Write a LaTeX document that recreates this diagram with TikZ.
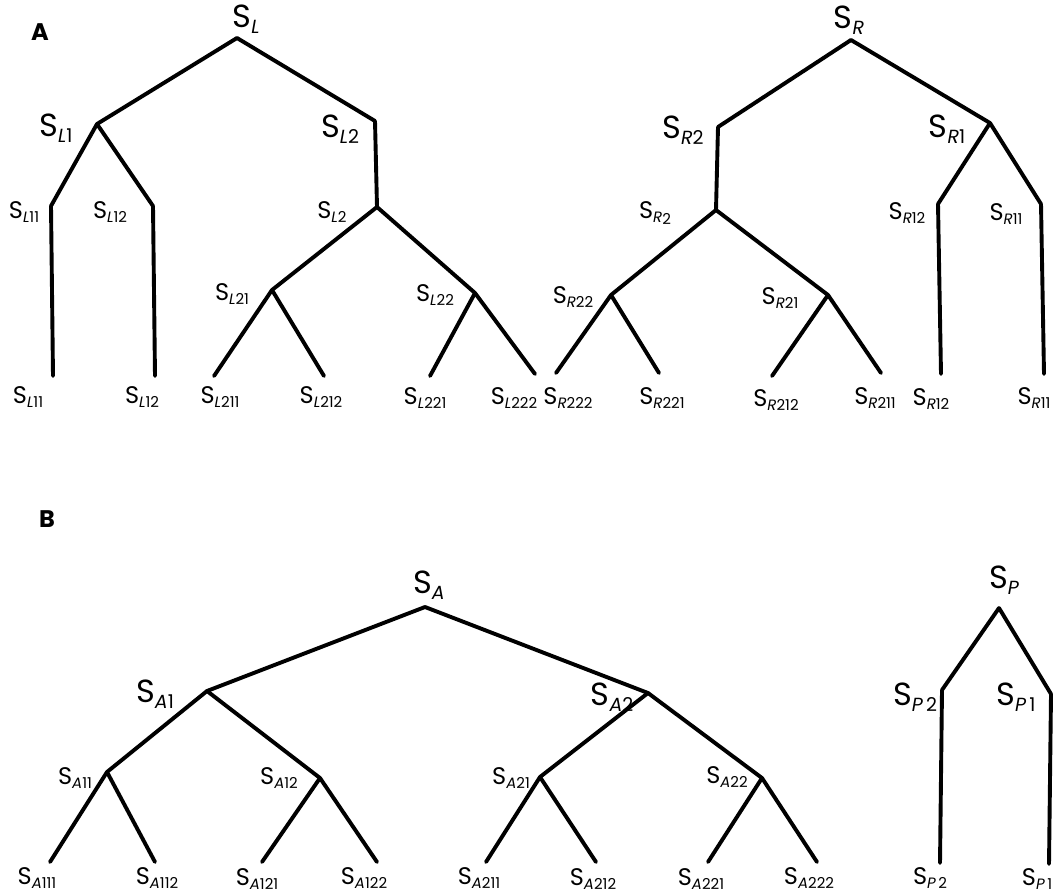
\documentclass[tikz,border=0pt]{standalone}
\usepackage{fontspec}
\setmainfont{Poppins}
\newcommand{\SBig}[1]{\fontsize{32}{36}\selectfont S\raisebox{-6pt}{\fontsize{19}{22}\selectfont #1}}
\newcommand{\SSmall}[1]{\fontsize{24}{28}\selectfont S\raisebox{-4.5pt}{\fontsize{15}{18}\selectfont #1}}
\tikzset{
  edge/.style={line width=3.9pt, line cap=round, line join=round},
  lbl/.style={inner sep=0pt, anchor=center},
  panel/.style={inner sep=0pt, font=\fontsize{24}{28}\selectfont\bfseries}
}
\begin{document}
\begin{tikzpicture}[x=1pt,y=-1pt]
\useasboundingbox (0,0) rectangle (1062,894);
% ---------------- Panel A, left tree ----------------
\node[panel] (pA) at (40,32) {A};
\coordinate (L) at (237,38);
\coordinate (L1) at (97,124);
\coordinate (L2a) at (375,121);
\coordinate (L2b) at (377,207);
\coordinate (L11a) at (51,206);
\coordinate (L11b) at (53,376);
\coordinate (L12a) at (153,206);
\coordinate (L12b) at (155,376);
\coordinate (L21) at (272,290);
\coordinate (L22) at (475,293);
\coordinate (L211) at (214,376);
\coordinate (L212) at (324,376);
\coordinate (L221) at (430,376);
\coordinate (L222) at (535,374);
\draw[edge] (L) -- (L1);
\draw[edge] (L) -- (L2a);
\draw[edge] (L2a) -- (L2b);
\draw[edge] (L1) -- (L11a);
\draw[edge] (L11a) -- (L11b);
\draw[edge] (L1) -- (L12a);
\draw[edge] (L12a) -- (L12b);
\draw[edge] (L2b) -- (L21);
\draw[edge] (L2b) -- (L22);
\draw[edge] (L21) -- (L211);
\draw[edge] (L21) -- (L212);
\draw[edge] (L22) -- (L221);
\draw[edge] (L22) -- (L222);
\node[lbl] (tL) at (246,19) {\SBig{\textit{L}}};
\node[lbl] (tL1) at (56,128) {\SBig{\textit{L}1}};
\node[lbl] (tL2a) at (340,129) {\SBig{\textit{L}2}};
\node[lbl] (tL11a) at (24,212) {\SSmall{\textit{L}11}};
\node[lbl] (tL12a) at (110,212) {\SSmall{\textit{L}12}};
\node[lbl] (tL2b) at (332,212) {\SSmall{\textit{L}2}};
\node[lbl] (tL21) at (232,294) {\SSmall{\textit{L}21}};
\node[lbl] (tL22) at (435,295) {\SSmall{\textit{L}22}};
\node[lbl] (tL11b) at (28,397) {\SSmall{\textit{L}11}};
\node[lbl] (tL12b) at (142,397) {\SSmall{\textit{L}12}};
\node[lbl] (tL211) at (220,397) {\SSmall{\textit{L}211}};
\node[lbl] (tL212) at (321,397) {\SSmall{\textit{L}212}};
\node[lbl] (tL221) at (425,398) {\SSmall{\textit{L}221}};
\node[lbl] (tL222) at (514,398) {\SSmall{\textit{L}222}};
% ---------------- Panel A, right tree ----------------
\coordinate (R) at (851,40);
\coordinate (R2a) at (718,127);
\coordinate (R2b) at (716,210);
\coordinate (R1) at (990,123);
\coordinate (R12a) at (938,204);
\coordinate (R12b) at (941,374);
\coordinate (R11a) at (1041,204);
\coordinate (R11b) at (1044,374);
\coordinate (R22) at (611,295);
\coordinate (R21) at (828,295);
\coordinate (R222) at (556,373);
\coordinate (R221) at (659,373);
\coordinate (R212) at (772,376);
\coordinate (R211) at (881,373);
\draw[edge] (R) -- (R2a);
\draw[edge] (R2a) -- (R2b);
\draw[edge] (R) -- (R1);
\draw[edge] (R1) -- (R12a);
\draw[edge] (R12a) -- (R12b);
\draw[edge] (R1) -- (R11a);
\draw[edge] (R11a) -- (R11b);
\draw[edge] (R2b) -- (R22);
\draw[edge] (R2b) -- (R21);
\draw[edge] (R22) -- (R222);
\draw[edge] (R22) -- (R221);
\draw[edge] (R21) -- (R212);
\draw[edge] (R21) -- (R211);
\node[lbl] (tR) at (849,20) {\SBig{\textit{R}}};
\node[lbl] (tR2a) at (683,130) {\SBig{\textit{R}2}};
\node[lbl] (tR1) at (947,129) {\SBig{\textit{R}1}};
\node[lbl] (tR2b) at (655,213) {\SSmall{\textit{R}\raisebox{-2pt}{2}}};
\node[lbl] (tR12a) at (907,213) {\SSmall{\textit{R}12}};
\node[lbl] (tR11a) at (1006,214) {\SSmall{\textit{R}11}};
\node[lbl] (tR22) at (573,297) {\SSmall{\textit{R}22}};
\node[lbl] (tR21) at (780,298) {\SSmall{\textit{R}21}};
\node[lbl] (tR222) at (568,398) {\SSmall{\textit{R}222}};
\node[lbl] (tR221) at (662,398) {\SSmall{\textit{R}221}};
\node[lbl] (tR212) at (776,400) {\SSmall{\textit{R}212}};
\node[lbl] (tR211) at (875,398) {\SSmall{\textit{R}211}};
\node[lbl] (tR12b) at (931,399) {\SSmall{\textit{R}12}};
\node[lbl] (tR11b) at (1034,398) {\SSmall{\textit{R}11}};
% ---------------- Panel B, tree S_A ----------------
\node[panel] (pB) at (47,519) {B};
\coordinate (A) at (425,607);
\coordinate (A1) at (207,691);
\coordinate (A2) at (648,693);
\coordinate (A11) at (107,772);
\coordinate (A12) at (320,778);
\coordinate (A21) at (540,777);
\coordinate (A22) at (762,778);
\coordinate (A111) at (50,862);
\coordinate (A112) at (155,862);
\coordinate (A121) at (262,862);
\coordinate (A122) at (377,862);
\coordinate (A211) at (486,862);
\coordinate (A212) at (596,862);
\coordinate (A221) at (708,862);
\coordinate (A222) at (817,862);
\draw[edge] (A) -- (A1);
\draw[edge] (A) -- (A2);
\draw[edge] (A1) -- (A11);
\draw[edge] (A1) -- (A12);
\draw[edge] (A2) -- (A21);
\draw[edge] (A2) -- (A22);
\draw[edge] (A11) -- (A111);
\draw[edge] (A11) -- (A112);
\draw[edge] (A12) -- (A121);
\draw[edge] (A12) -- (A122);
\draw[edge] (A21) -- (A211);
\draw[edge] (A21) -- (A212);
\draw[edge] (A22) -- (A221);
\draw[edge] (A22) -- (A222);
\node[lbl] (tA) at (429,585) {\SBig{\textit{A}}};
\node[lbl] (tA1) at (155,694) {\SBig{\textit{A}1}};
\node[lbl] (tA2) at (612,697) {\SBig{\textit{A}2}};
\node[lbl] (tA11) at (75,778) {\SSmall{\textit{A}11}};
\node[lbl] (tA12) at (279,778) {\SSmall{\textit{A}12}};
\node[lbl] (tA21) at (511,778) {\SSmall{\textit{A}21}};
\node[lbl] (tA22) at (727,777) {\SSmall{\textit{A}22}};
\node[lbl] (tA111) at (37,878) {\SSmall{\textit{A}111}};
\node[lbl] (tA112) at (157,878) {\SSmall{\textit{A}112}};
\node[lbl] (tA121) at (257,879) {\SSmall{\textit{A}121}};
\node[lbl] (tA122) at (364,878) {\SSmall{\textit{A}122}};
\node[lbl] (tA211) at (479,878) {\SSmall{\textit{A}211}};
\node[lbl] (tA212) at (593,879) {\SSmall{\textit{A}212}};
\node[lbl] (tA221) at (701,879) {\SSmall{\textit{A}221}};
\node[lbl] (tA222) at (809,878) {\SSmall{\textit{A}222}};
% ---------------- Panel B, tree S_P ----------------
\coordinate (P) at (999,608);
\coordinate (P2a) at (942,690);
\coordinate (P2b) at (940,863);
\coordinate (P1a) at (1051,694);
\coordinate (P1b) at (1049,864);
\draw[edge] (P) -- (P2a);
\draw[edge] (P2a) -- (P2b);
\draw[edge] (P) -- (P1a);
\draw[edge] (P1a) -- (P1b);
\node[lbl] (tP) at (1004,580) {\SBig{\textit{P}}};
\node[lbl] (tP2a) at (915,697) {\SBig{\textit{P}\,2}};
\node[lbl] (tP1a) at (1016,697) {\SBig{\textit{P}\,1}};
\node[lbl] (tP2b) at (930,878) {\SSmall{\textit{P}\,2}};
\node[lbl] (tP1b) at (1037,879) {\SSmall{\textit{P}\,1}};
\end{tikzpicture}
\end{document}
